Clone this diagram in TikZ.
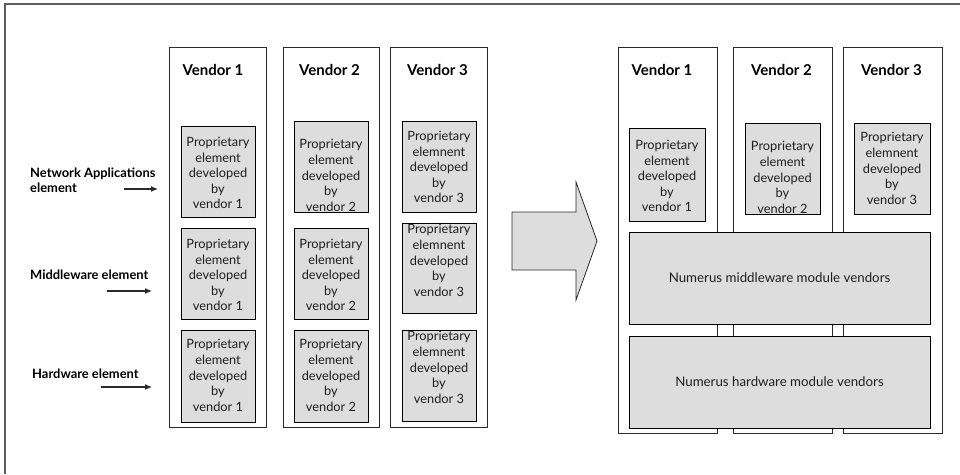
\documentclass[tikz,border=0pt]{standalone}
\usepackage{fontspec}
\setmainfont{Lato}
\usetikzlibrary{arrows.meta}
\definecolor{boxfill}{HTML}{DDDDDD}
\definecolor{edge}{HTML}{2A2A2A}
\definecolor{ink}{HTML}{1E1E1E}
\definecolor{framegray}{HTML}{5C5C5C}

\begin{document}
\begin{tikzpicture}[x=1pt,y=-1pt,
  column/.style={draw=edge,line width=0.8pt,fill=white,anchor=north west,inner sep=0pt,outer sep=0pt},
  module/.style={draw=black,line width=0.9pt,fill=boxfill,anchor=north west,inner sep=0pt,outer sep=0pt},
  modtext/.style={text=ink,font=\fontsize{12.8}{15.6}\selectfont,align=center,inner sep=0pt},
  layertext/.style={modtext,font=\fontsize{13.3}{15.6}\selectfont},
  vendor/.style={font=\bfseries\fontsize{15}{18}\selectfont,text=black,inner sep=0pt},
  side/.style={font=\bfseries\fontsize{12.9}{15}\selectfont,align=left,anchor=west,inner sep=0pt},
  pointer/.style={-{Latex[length=7pt,width=6pt]},line width=1.1pt,draw=edge},
]
\useasboundingbox (0,0) rectangle (960,474);

% outer frame (top and left edges)
\draw[framegray,line width=1.4pt] (5,474) -- (5,4) -- (960,4);

% ---------- left: vertically integrated vendors ----------
\node[column,minimum width=97pt,minimum height=380pt] (L1) at (169,47) {};
\node[column,minimum width=96pt,minimum height=380pt] (L2) at (283,47) {};
\node[column,minimum width=97pt,minimum height=380pt] (L3) at (390,47) {};
\node[vendor] (L1t) at (213,70) {Vendor 1};
\node[vendor] (L2t) at (329.5,70) {Vendor 2};
\node[vendor] (L3t) at (437.5,70) {Vendor 3};

\node[module,minimum width=74pt,minimum height=91pt] (A11) at (181,126) {};
\node[module,minimum width=74pt,minimum height=91pt] (A21) at (294,121) {};
\node[module,minimum width=74pt,minimum height=91pt] (A31) at (402,121) {};
\node[module,minimum width=74pt,minimum height=91pt] (A12) at (181,228) {};
\node[module,minimum width=74pt,minimum height=91pt] (A22) at (294,228) {};
\node[module,minimum width=74pt,minimum height=90pt] (A32) at (402,223) {};
\node[module,minimum width=74pt,minimum height=92pt] (A13) at (181,330) {};
\node[module,minimum width=74pt,minimum height=92pt] (A23) at (294,330) {};
\node[module,minimum width=74pt,minimum height=91pt] (A33) at (402,330) {};

\node[modtext] (A11t) at (218,173) {Proprietary\\element\\developed\\by\\vendor 1};
\node[modtext] (A21t) at (331,175.5) {Proprietary\\element\\developed\\by\\vendor 2};
\node[modtext] (A31t) at (439,167) {Proprietary\\elemnent\\developed\\by\\vendor 3};
\node[modtext] (A12t) at (218,275) {Proprietary\\element\\developed\\by\\vendor 1};
\node[modtext] (A22t) at (331,275) {Proprietary\\element\\developed\\by\\vendor 2};
\node[modtext] (A32t) at (439,260.5) {Proprietary\\elemnent\\developed\\by\\vendor 3};
\node[modtext] (A13t) at (218,375.5) {Proprietary\\element\\developed\\by\\vendor 1};
\node[modtext] (A23t) at (331,375.5) {Proprietary\\element\\developed\\by\\vendor 2};
\node[modtext] (A33t) at (439,367.5) {Proprietary\\elemnent\\developed\\by\\vendor 3};

% layer labels with pointers
\node[side] (net) at (30,180) {Network Applications\\element};
\node[side] (mid) at (30,275) {Middleware element};
\node[side] (hw)  at (32,374) {Hardware element};
\coordinate (netS) at (124,189);
\coordinate (netE) at (158,189);
\coordinate (midS) at (107,291);
\coordinate (midE) at (152,291);
\coordinate (hwS)  at (101,387);
\coordinate (hwE)  at (152,387);
\draw[pointer] (netS) -- (netE);
\draw[pointer] (midS) -- (midE);
\draw[pointer] (hwS) -- (hwE);

% ---------- transition arrow ----------
\draw[edge,line width=0.8pt,fill=boxfill,line join=miter]
  (512,212) -- (576,212) -- (576,182) -- (597,241) -- (576,300) -- (576,270) -- (512,270) -- cycle;

% ---------- right: horizontal layers ----------
\node[column,minimum width=99pt,minimum height=386pt] (R1) at (618,47) {};
\node[column,minimum width=99pt,minimum height=386pt] (R2) at (733,47) {};
\node[column,minimum width=99pt,minimum height=386pt] (R3) at (843,47) {};
\node[vendor] (R1t) at (662,70) {Vendor 1};
\node[vendor] (R2t) at (781.5,70) {Vendor 2};
\node[vendor] (R3t) at (891.5,70) {Vendor 3};

\node[module,minimum width=76pt,minimum height=93pt] (B1) at (629,128) {};
\node[module,minimum width=75pt,minimum height=91pt] (B2) at (745,123) {};
\node[module,minimum width=76pt,minimum height=91pt] (B3) at (854,123) {};
\node[modtext] (B1t) at (667,176) {Proprietary\\element\\developed\\by\\vendor 1};
\node[modtext] (B2t) at (782.5,177.5) {Proprietary\\element\\developed\\by\\vendor 2};
\node[modtext] (B3t) at (892,168.5) {Proprietary\\elemnent\\developed\\by\\vendor 3};

\node[module,minimum width=301pt,minimum height=92pt] (M) at (629,232) {};
\node[module,minimum width=301pt,minimum height=92pt] (H) at (629,336) {};
\node[layertext] (Mt) at (M.center) {Numerus middleware module vendors};
\node[layertext] (Ht) at (H.center) {Numerus hardware module vendors};
\end{tikzpicture}
\end{document}
